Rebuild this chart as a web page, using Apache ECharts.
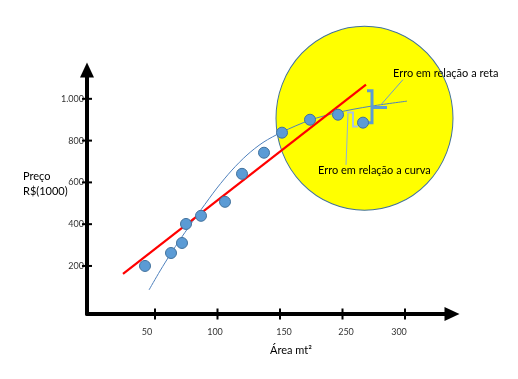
<!DOCTYPE html>
<html>
<head>
<meta charset="utf-8">
<script src="https://cdn.jsdelivr.net/npm/echarts@6/dist/echarts.min.js"></script>
<style>html,body{margin:0;padding:0;background:#fff}#c{width:518px;height:379px}</style>
</head>
<body>
<div id="c"></div>
<script>
// x axis: tick positions (uniformly spaced) and their printed labels
const xTickPos = [50, 100, 150, 200, 250];
const xTickLabels = ['50', '100', '150', '250', '300'];
const xLabelPos = [43.6, 98, 153.2, 202.8, 245.2];
// y axis
const yTickValues = [200, 400, 600, 800, 1000];
const yTickLabels = ['200', '400', '600', '800', '1.000'];
// observed points
const pointArea  = [42, 62.8, 71.6, 74.8, 86.8, 106, 119.6, 137.2, 151.6, 174, 196.4, 216.4];
const pointPrice = [200, 262, 310, 401, 440, 507, 641, 742, 838, 900, 924, 886];
// fitted straight line (reta)
const retaArea  = [24.4, 218.8];
const retaPrice = [162, 1068];
// fitted curve (curva)
const curvaArea  = [45.2, 54, 62.8, 70, 78, 86.8, 99.6, 111.6, 123.6, 136.4, 151.6, 174, 196.4, 222, 251.6];
const curvaPrice = [85, 176, 261, 326, 395, 469, 573, 659, 731, 791, 841, 898, 935, 964, 989];
// highlight circle centre
const circleArea = [217.6];
const circlePrice = [907];
// error brackets
const bigBracketArea  = [219.6, 223.6, 223.6, 219.6];
const bigBracketPrice = [1039, 1039, 886, 886];
const bigStubArea  = [223.6, 235.6];
const bigStubPrice = [958, 958];
const smallBracketArea  = [203.6, 208.4, 208.4, 212.4];
const smallBracketPrice = [934, 934, 867, 867];
const leaderRetaArea  = [230.8, 248.4];
const leaderRetaPrice = [972, 1092];
const leaderCurvaArea  = [204.4, 202.8];
const leaderCurvaPrice = [929, 684];

function zip(a, b) { return a.map((v, i) => [v, b[i]]); }

const FONT = 'Lato';
const chart = echarts.init(document.getElementById('c'), null, {renderer: 'canvas'});
const xRange = {min: -4.4, max: 287.6};
const yRange = {min: -30, max: 1138};
const GRID = {left: 87, right: 66, top: 70, bottom: 65};

function lineSeries(data, color, width, z) {
  return {type: 'line', silent: true, z: z, symbol: 'none', data: data,
    lineStyle: {color: color, width: width, join: 'miter', cap: 'butt'}};
}

chart.setOption({
  animation: false,
  grid: GRID,
  xAxis: {
    type: 'value', min: xRange.min, max: xRange.max, position: 'bottom',
    splitLine: {show: false},
    axisLine: {show: true, onZero: false, symbol: ['none', 'triangle'], symbolSize: [14, 15],
      lineStyle: {color: '#000', width: 4}},
    axisTick: {show: false},
    axisLabel: {show: true, customValues: xLabelPos, margin: 14, fontFamily: FONT, fontSize: 9, color: '#333',
      formatter: function (v) { const i = xLabelPos.indexOf(v); return i >= 0 ? xTickLabels[i] : ''; }}
  },
  yAxis: {
    type: 'value', min: yRange.min, max: yRange.max, position: 'left',
    splitLine: {show: false},
    axisLine: {show: true, onZero: false, symbol: ['none', 'triangle'], symbolSize: [14, 15],
      lineStyle: {color: '#000', width: 4}},
    axisTick: {show: false},
    axisLabel: {show: true, customValues: yTickValues, margin: 3, fontFamily: FONT, fontSize: 9, color: '#333',
      padding: [0, 0, 6, 0],
      formatter: function (v) { const i = yTickValues.indexOf(v); return i >= 0 ? yTickLabels[i] : ''; }}
  },
  series: [
    {
      type: 'scatter', silent: true, z: 1,
      data: zip(circleArea, circlePrice),
      symbol: 'circle', symbolSize: [177, 184],
      itemStyle: {color: '#ffff00', borderColor: '#41719c', borderWidth: 1, opacity: 1}
    },
    // tick marks crossing the x axis line
    {
      type: 'scatter', silent: true, z: 8, clip: false,
      data: xTickPos.map(v => [v, yRange.min]),
      symbol: 'rect', symbolSize: [2, 11],
      itemStyle: {color: '#000', opacity: 1}
    },
    // tick marks crossing the y axis line
    {
      type: 'scatter', silent: true, z: 8, clip: false,
      data: yTickValues.map(v => [xRange.min, v]),
      symbol: 'rect', symbolSize: [10, 2],
      itemStyle: {color: '#000', opacity: 1}
    },
    Object.assign(lineSeries(zip(curvaArea, curvaPrice), '#4f81bd', 1, 3), {smooth: 0.3}),
    lineSeries(zip(retaArea, retaPrice), '#ff0000', 2.2, 4),
    lineSeries(zip(bigBracketArea, bigBracketPrice), '#5b9bd5', 3, 4),
    lineSeries(zip(bigStubArea, bigStubPrice), '#5b9bd5', 3, 4),
    lineSeries(zip(smallBracketArea, smallBracketPrice), '#a9c4e2', 2, 4),
    lineSeries(zip(leaderRetaArea, leaderRetaPrice), '#6d9bd0', 1, 4),
    lineSeries(zip(leaderCurvaArea, leaderCurvaPrice), '#8db0dc', 1, 4),
    {
      type: 'scatter', silent: true, z: 6,
      data: zip(pointArea, pointPrice),
      symbol: 'circle', symbolSize: 11,
      itemStyle: {color: '#5b9bd5', borderColor: '#41719c', borderWidth: 1, opacity: 1}
    }
  ],
  graphic: [
    {type: 'text', left: 23, top: 169, z: 10,
      style: {text: 'Preço\nR$(1000)', font: '11px ' + FONT, fill: '#000', lineHeight: 15}},
    {type: 'text', left: 270, top: 345, z: 10,
      style: {text: 'Área mt²', font: '11px ' + FONT, fill: '#000'}},
    {type: 'text', left: 393, top: 68, z: 10,
      style: {text: 'Erro em relação a reta', font: '11px ' + FONT, fill: '#000'}},
    {type: 'text', left: 318, top: 165, z: 10,
      style: {text: 'Erro em relação a curva', font: '11px ' + FONT, fill: '#000'}}
  ]
});
</script>
</body>
</html>
